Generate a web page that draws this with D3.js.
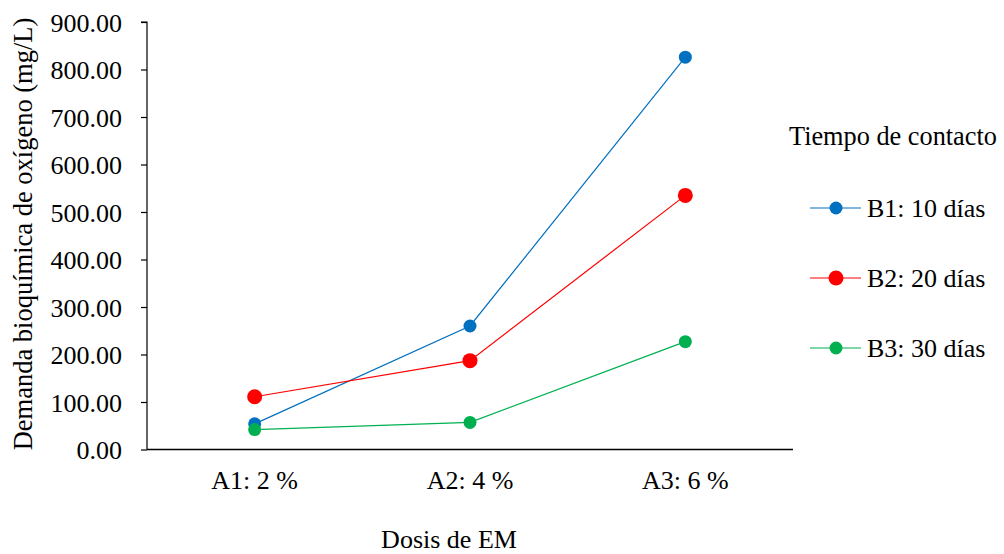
<!DOCTYPE html>
<html><head><meta charset="utf-8">
<script src="https://cdn.jsdelivr.net/npm/d3@7"></script>
<style>body{margin:0;background:#fff}svg{display:block}text{font-family:"Liberation Serif","Times New Roman",serif;fill:#000}</style>
</head><body><svg id="c" width="1004" height="554"></svg>
<script>
const categories = ["A1: 2 %", "A2: 4 %", "A3: 6 %"];
const seriesNames = ["B1: 10 días", "B2: 20 días", "B3: 30 días"];
const b1 = [54, 260, 826];
const b2 = [111, 187, 535];
const b3 = [42, 57, 227];
const colors = ["#0070C0", "#FF0000", "#00B050"];
const yTicks = [0, 100, 200, 300, 400, 500, 600, 700, 800, 900];

(function () {
const FS = "26px";
const svg = d3.select("#c");
const pl = 147, pr = 793, pt = 22, pb = 449.5;
const x = d3.scaleBand().domain(categories).range([pl, pr]);
const y = d3.scaleLinear().domain([0, 900]).range([pb, pt]);

const yAxis = d3.axisLeft(y).tickValues(yTicks).tickFormat(d3.format(".2f")).tickSize(6).tickPadding(19);
const gy = svg.append("g").attr("transform", `translate(${pl},0)`).call(yAxis);
gy.select(".domain").attr("stroke", "#000").attr("stroke-width", 1.2).attr("d", `M-6,${pt}H0V${pb}`);
gy.selectAll(".tick line").attr("stroke", "#000").attr("stroke-width", 1.2);
gy.selectAll(".tick text").style("font-size", FS).style("font-family", "Liberation Serif").attr("dy", "0.36em");

const xAxis = d3.axisBottom(x).tickSize(0);
const gx = svg.append("g").attr("transform", `translate(0,${pb})`).call(xAxis);
gx.select(".domain").attr("stroke", "#000").attr("stroke-width", 1.5).attr("d", `M${pl},0H${pr}`);
gx.selectAll(".tick text").style("font-size", FS).style("font-family", "Liberation Serif").attr("y", 39.5).attr("dy", 0);

svg.append("text").attr("x", 449).attr("y", 548).attr("text-anchor", "middle").style("font-size", FS).text("Dosis de EM");
svg.append("text").attr("transform", "translate(32,234) rotate(-90)").attr("text-anchor", "middle").style("font-size", "26.5px").text("Demanda bioquímica de oxígeno (mg/L)");

const data = [b1, b2, b3];
const line = d3.line().x((d, i) => x(categories[i]) + x.bandwidth() / 2).y(d => y(d));
data.forEach((vals, s) => {
  svg.append("path").datum(vals).attr("d", line).attr("fill", "none").attr("stroke", colors[s]).attr("stroke-width", 1.2);
});
data.forEach((vals, s) => {
  svg.selectAll(null).data(vals).enter().append("circle")
    .attr("cx", (d, i) => x(categories[i]) + x.bandwidth() / 2)
    .attr("cy", d => y(d)).attr("r", s === 1 ? 7.5 : 6.5).attr("fill", colors[s]);
});

svg.append("text").attr("x", 789).attr("y", 145).style("font-size", "26.3px").text("Tiempo de contacto");
const legY = [208, 278, 348];
seriesNames.forEach((n, s) => {
  const g = svg.append("g").attr("transform", `translate(0,${legY[s]})`);
  g.append("line").attr("x1", 810).attr("x2", 861).attr("y1", 0).attr("y2", 0).attr("stroke", colors[s]).attr("stroke-width", 1.2);
  g.append("circle").attr("cx", 836).attr("cy", 0).attr("r", s === 1 ? 7.5 : 6.5).attr("fill", colors[s]);
  g.append("text").attr("x", 867).attr("y", 8.5).style("font-size", FS).text(n);
});
})();
</script></body></html>
